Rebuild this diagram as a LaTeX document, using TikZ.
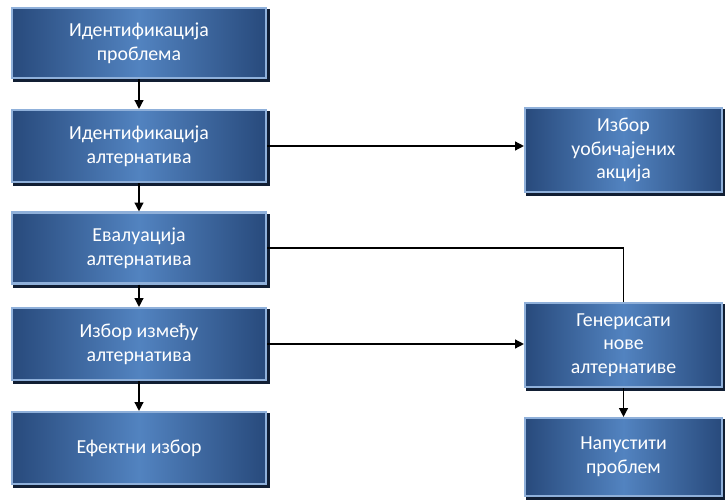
\documentclass[tikz,border=0pt]{standalone}
\usepackage{fontspec}
\setmainfont{Carlito}
\usepackage{xcolor}
\usetikzlibrary{arrows.meta}

\definecolor{boxmid}{HTML}{5283C0}
\definecolor{boxedge}{HTML}{284A7C}
\definecolor{boxrim}{HTML}{8FB0DA}
\definecolor{boxshade}{HTML}{111E33}

\tikzset{
  stepbox/.style={rectangle, draw=boxrim, line width=1.2pt,
    shade, left color=boxedge, right color=boxedge, middle color=boxmid,
    text=white, align=center, font=\fontsize{11.3}{13.5}\selectfont,
    preaction={draw=boxshade, line width=1.6pt, transform canvas={xshift=1.2pt, yshift=-1.6pt}}},
  flow/.style={-{Triangle[length=5pt, width=5pt]}, line width=0.8pt, black}
}

\begin{document}
\begin{tikzpicture}
\useasboundingbox (0,0) rectangle (14.5,10.04);

% left column
\node[stepbox, minimum width=5.08cm, minimum height=1.40cm] (ip) at (2.78,9.18) {Идентификација\\проблема};
\node[stepbox, minimum width=5.08cm, minimum height=1.44cm] (ia) at (2.78,7.12) {Идентификација\\алтернатива};
\node[stepbox, minimum width=5.08cm, minimum height=1.42cm] (ea) at (2.78,5.08) {Евалуација\\алтернатива};
\node[stepbox, minimum width=5.08cm, minimum height=1.44cm] (iz) at (2.78,3.16) {Избор између\\алтернатива};
\node[stepbox, minimum width=5.08cm, minimum height=1.44cm] (ef) at (2.78,1.08) {Ефектни избор};

% right column
\node[stepbox, minimum width=3.94cm, minimum height=1.68cm] (ua) at (12.47,7.04) {Избор\\уобичајених\\акција};
\node[stepbox, minimum width=3.94cm, minimum height=1.68cm] (gn) at (12.47,3.14) {Генерисати\\нове\\алтернативе};
\node[stepbox, minimum width=3.94cm, minimum height=1.56cm] (np) at (12.47,0.90) {Напустити\\проблем};

\draw[flow] (ip) -- (ia);
\draw[flow] (ia) -- (ea);
\draw[flow] (ea) -- (iz);
\draw[flow] (iz) -- (ef);
\draw[flow] (ia.east) -- (ia.east -| ua.west);
\draw[line width=0.8pt] (ea.east) -| (gn.north);
\draw[flow] (iz.east) -- (iz.east -| gn.west);
\draw[flow] (gn) -- (np);
\end{tikzpicture}
\end{document}
